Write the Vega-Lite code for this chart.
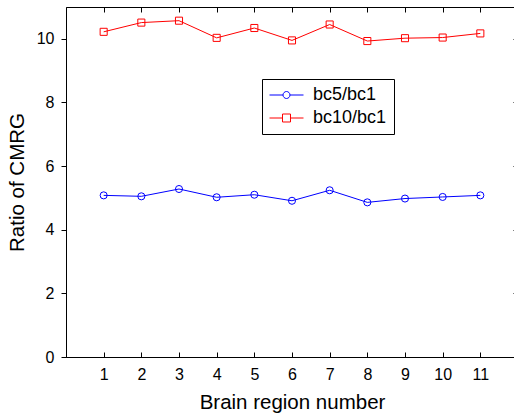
{
  "$schema": "https://vega.github.io/schema/vega-lite/v6.json",
  "width": 452,
  "height": 350,
  "autosize": "none",
  "padding": {"left": 66, "top": 7, "right": 0, "bottom": 58},
  "background": "white",
  "config": {
    "view": {"stroke": "black", "strokeWidth": 1},
    "font": "Liberation Sans",
    "axis": {
      "grid": false,
      "domainColor": "black",
      "tickColor": "black",
      "labelColor": "black",
      "titleColor": "black",
      "labelFont": "Liberation Sans",
      "titleFont": "Liberation Sans",
      "titleFontWeight": "normal",
      "labelFontSize": 16,
      "titleFontSize": 20.5
    }
  },
  "data": {
    "values": [
      {"region": 1, "series": "bc5/bc1", "ratio": 5.08},
      {"region": 2, "series": "bc5/bc1", "ratio": 5.05},
      {"region": 3, "series": "bc5/bc1", "ratio": 5.28},
      {"region": 4, "series": "bc5/bc1", "ratio": 5.02},
      {"region": 5, "series": "bc5/bc1", "ratio": 5.10},
      {"region": 6, "series": "bc5/bc1", "ratio": 4.91},
      {"region": 7, "series": "bc5/bc1", "ratio": 5.24},
      {"region": 8, "series": "bc5/bc1", "ratio": 4.86},
      {"region": 9, "series": "bc5/bc1", "ratio": 4.98},
      {"region": 10, "series": "bc5/bc1", "ratio": 5.03},
      {"region": 11, "series": "bc5/bc1", "ratio": 5.08},
      {"region": 1, "series": "bc10/bc1", "ratio": 10.22},
      {"region": 2, "series": "bc10/bc1", "ratio": 10.51},
      {"region": 3, "series": "bc10/bc1", "ratio": 10.57},
      {"region": 4, "series": "bc10/bc1", "ratio": 10.03},
      {"region": 5, "series": "bc10/bc1", "ratio": 10.34},
      {"region": 6, "series": "bc10/bc1", "ratio": 9.95},
      {"region": 7, "series": "bc10/bc1", "ratio": 10.45},
      {"region": 8, "series": "bc10/bc1", "ratio": 9.93},
      {"region": 9, "series": "bc10/bc1", "ratio": 10.02},
      {"region": 10, "series": "bc10/bc1", "ratio": 10.04},
      {"region": 11, "series": "bc10/bc1", "ratio": 10.17}
    ]
  },
  "layer": [
    {
      "mark": {"type": "line", "strokeWidth": 1, "clip": true},
      "encoding": {
        "x": {
          "field": "region", "type": "quantitative",
          "scale": {"domain": [0, 12], "nice": false, "zero": false},
          "axis": {
            "orient": "bottom",
            "values": [1, 2, 3, 4, 5, 6, 7, 8, 9, 10, 11],
            "tickSize": -5,
            "labelPadding": 14,
            "title": "Brain region number",
            "titlePadding": 10
          }
        },
        "y": {
          "field": "ratio", "type": "quantitative",
          "scale": {"domain": [0, 11], "nice": false},
          "axis": {
            "orient": "left",
            "values": [0, 2, 4, 6, 8, 10],
            "tickSize": 5,
            "labelPadding": 7,
            "title": "Ratio of CMRG",
            "titlePadding": 9
          }
        },
        "color": {
          "field": "series", "type": "nominal",
          "scale": {"domain": ["bc5/bc1", "bc10/bc1"], "range": ["#0000ff", "#ff0000"]},
          "legend": null
        },
        "detail": {"field": "series"}
      }
    },
    {
      "mark": {"type": "point", "filled": false, "strokeWidth": 1, "opacity": 1, "clip": true},
      "encoding": {
        "x": {
          "field": "region", "type": "quantitative",
          "scale": {"domain": [0, 12], "nice": false, "zero": false},
          "axis": {
            "orient": "top",
            "values": [1, 2, 3, 4, 5, 6, 7, 8, 9, 10, 11],
            "tickSize": -5,
            "labels": false,
            "domain": false,
            "title": null
          }
        },
        "y": {
          "field": "ratio", "type": "quantitative",
          "scale": {"domain": [0, 11], "nice": false},
          "axis": {
            "orient": "right",
            "values": [0, 2, 4, 6, 8, 10],
            "tickSize": -5,
            "labels": false,
            "domain": false,
            "title": null
          }
        },
        "color": {
          "field": "series", "type": "nominal",
          "scale": {"domain": ["bc5/bc1", "bc10/bc1"], "range": ["#0000ff", "#ff0000"]},
          "legend": null
        },
        "shape": {
          "field": "series", "type": "nominal",
          "scale": {"domain": ["bc5/bc1", "bc10/bc1"], "range": ["circle", "square"]},
          "legend": null
        },
        "size": {"value": 50}
      }
    },
    {
      "mark": {"type": "point", "filled": false, "strokeWidth": 1, "opacity": 0},
      "encoding": {
        "x": {"field": "region", "type": "quantitative", "scale": {"domain": [0, 12], "nice": false, "zero": false}, "axis": null},
        "y": {"field": "ratio", "type": "quantitative", "scale": {"domain": [0, 11], "nice": false}, "axis": null},
        "color": {
          "field": "series", "type": "nominal",
          "scale": {"domain": ["bc5/bc1", "bc10/bc1"], "range": ["#0000ff", "#ff0000"]},
          "legend": {
            "orient": "none",
            "legendX": 196,
            "legendY": 72,
            "title": null,
            "strokeColor": "black",
            "fillColor": "white",
            "padding": 7,
            "rowPadding": 5,
            "symbolSize": 289,
            "symbolStrokeWidth": 1,
            "symbolOpacity": 1,
            "labelFont": "Liberation Sans",
            "labelFontSize": 18,
            "labelColor": "black",
            "labelOffset": 26
          }
        },
        "shape": {
          "field": "series", "type": "nominal",
          "scale": {
            "domain": ["bc5/bc1", "bc10/bc1"],
            "range": [
              "M-1,0H0.59M1.41,0H3M0.59,0A0.41,0.41 0 1,0 1.41,0A0.41,0.41 0 1,0 0.59,0",
              "M-1,0H0.53M1.47,0H3M0.53,-0.47H1.47V0.47H0.53Z"
            ]
          }
        }
      }
    }
  ],
  "resolve": {
    "axis": {"x": "independent", "y": "independent"},
    "scale": {"color": "independent", "shape": "independent"}
  }
}
